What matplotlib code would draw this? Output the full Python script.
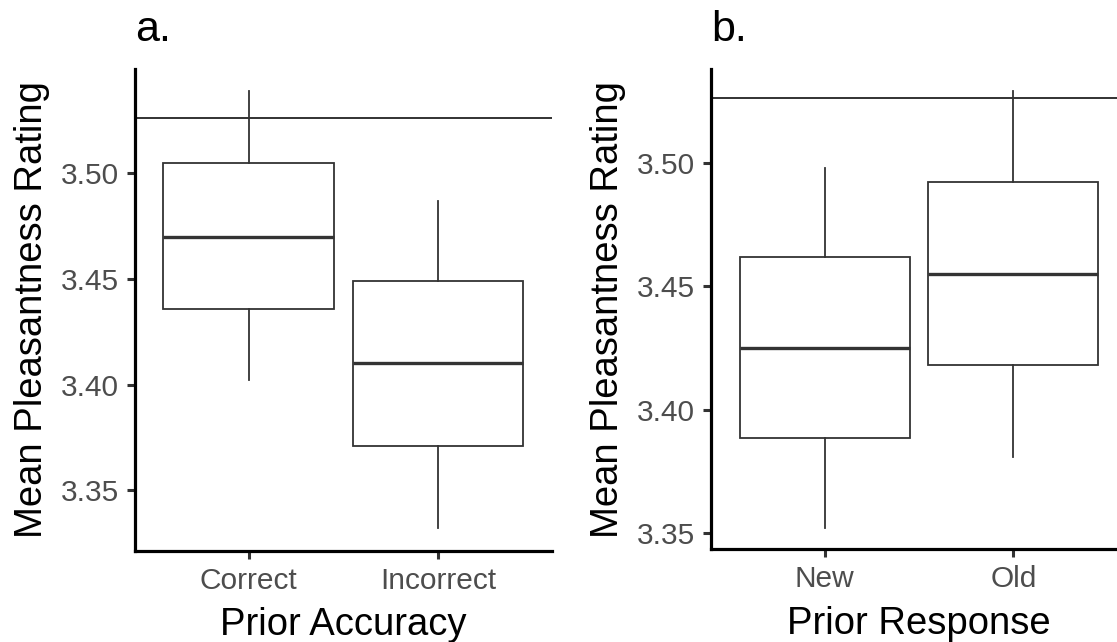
import matplotlib
matplotlib.use('Agg')
import matplotlib.pyplot as plt

plt.rcParams['font.family'] = ['Liberation Sans', 'DejaVu Sans']

# panel a: prior accuracy
accuracy_labels = ['Correct', 'Incorrect']
acc_whislo = [3.402, 3.332]
acc_q1 = [3.436, 3.371]
acc_med = [3.470, 3.410]
acc_q3 = [3.505, 3.449]
acc_whishi = [3.539, 3.487]

# panel b: prior response
response_labels = ['New', 'Old']
resp_whislo = [3.352, 3.381]
resp_q1 = [3.3885, 3.418]
resp_med = [3.425, 3.455]
resp_q3 = [3.462, 3.492]
resp_whishi = [3.498, 3.529]

reference_line = 3.526
yticks = [3.35, 3.40, 3.45, 3.50]

W, H = 1117, 642
fig = plt.figure(figsize=(W / 100, H / 100), dpi=100)


def px_axes(left, right, top, bottom):
    return fig.add_axes([left / W, (H - bottom) / H, (right - left) / W, (bottom - top) / H])


def draw_panel(ax, labels, lo, q1, med, q3, hi, ylim, xlabel, tag):
    stats = []
    for i in range(len(labels)):
        stats.append(dict(whislo=lo[i], q1=q1[i], med=med[i], q3=q3[i], whishi=hi[i], fliers=[]))
    ax.bxp(stats, positions=range(len(labels)), widths=0.9, showcaps=False,
           patch_artist=True, manage_ticks=False,
           boxprops=dict(facecolor='white', edgecolor='#333333', linewidth=1.3),
           medianprops=dict(color='#333333', linewidth=2.4, solid_capstyle='butt'),
           whiskerprops=dict(color='#333333', linewidth=1.3))
    ax.axhline(reference_line, color='#222222', linewidth=1.3, zorder=1)
    ax.set_xlim(-0.6, len(labels) - 0.4)
    ax.set_ylim(*ylim)
    ax.set_xticks(range(len(labels)))
    ax.set_xticklabels(labels)
    ax.set_yticks(yticks)
    ax.set_yticklabels(['%.2f' % t for t in yticks])
    for s in ['top', 'right']:
        ax.spines[s].set_visible(False)
    for s in ['left', 'bottom']:
        ax.spines[s].set_linewidth(2.3)
        ax.spines[s].set_color('black')
    ax.tick_params(axis='both', length=5.5, width=2.2, color='#333333',
                   labelsize=21.5, labelcolor='#4D4D4D', pad=6)
    ax.set_xlabel(xlabel, fontsize=27.5, color='black', labelpad=9)
    ax.set_ylabel('Mean Pleasantness Rating', fontsize=27.5, color='black', labelpad=8)
    ax.text(0.0, 1.059, tag, transform=ax.transAxes, fontsize=31, ha='left', va='baseline')


ax1 = px_axes(135, 551.5, 69.3, 550.7)
draw_panel(ax1, accuracy_labels, acc_whislo, acc_q1, acc_med, acc_q3, acc_whishi,
           (3.3213, 3.5493), 'Prior Accuracy', 'a.')

ax2 = px_axes(711.2, 1126.7, 69.3, 549.3)
draw_panel(ax2, response_labels, resp_whislo, resp_q1, resp_med, resp_q3, resp_whishi,
           (3.3435, 3.5378), 'Prior Response', 'b.')

fig.savefig('out.png', dpi=100)
